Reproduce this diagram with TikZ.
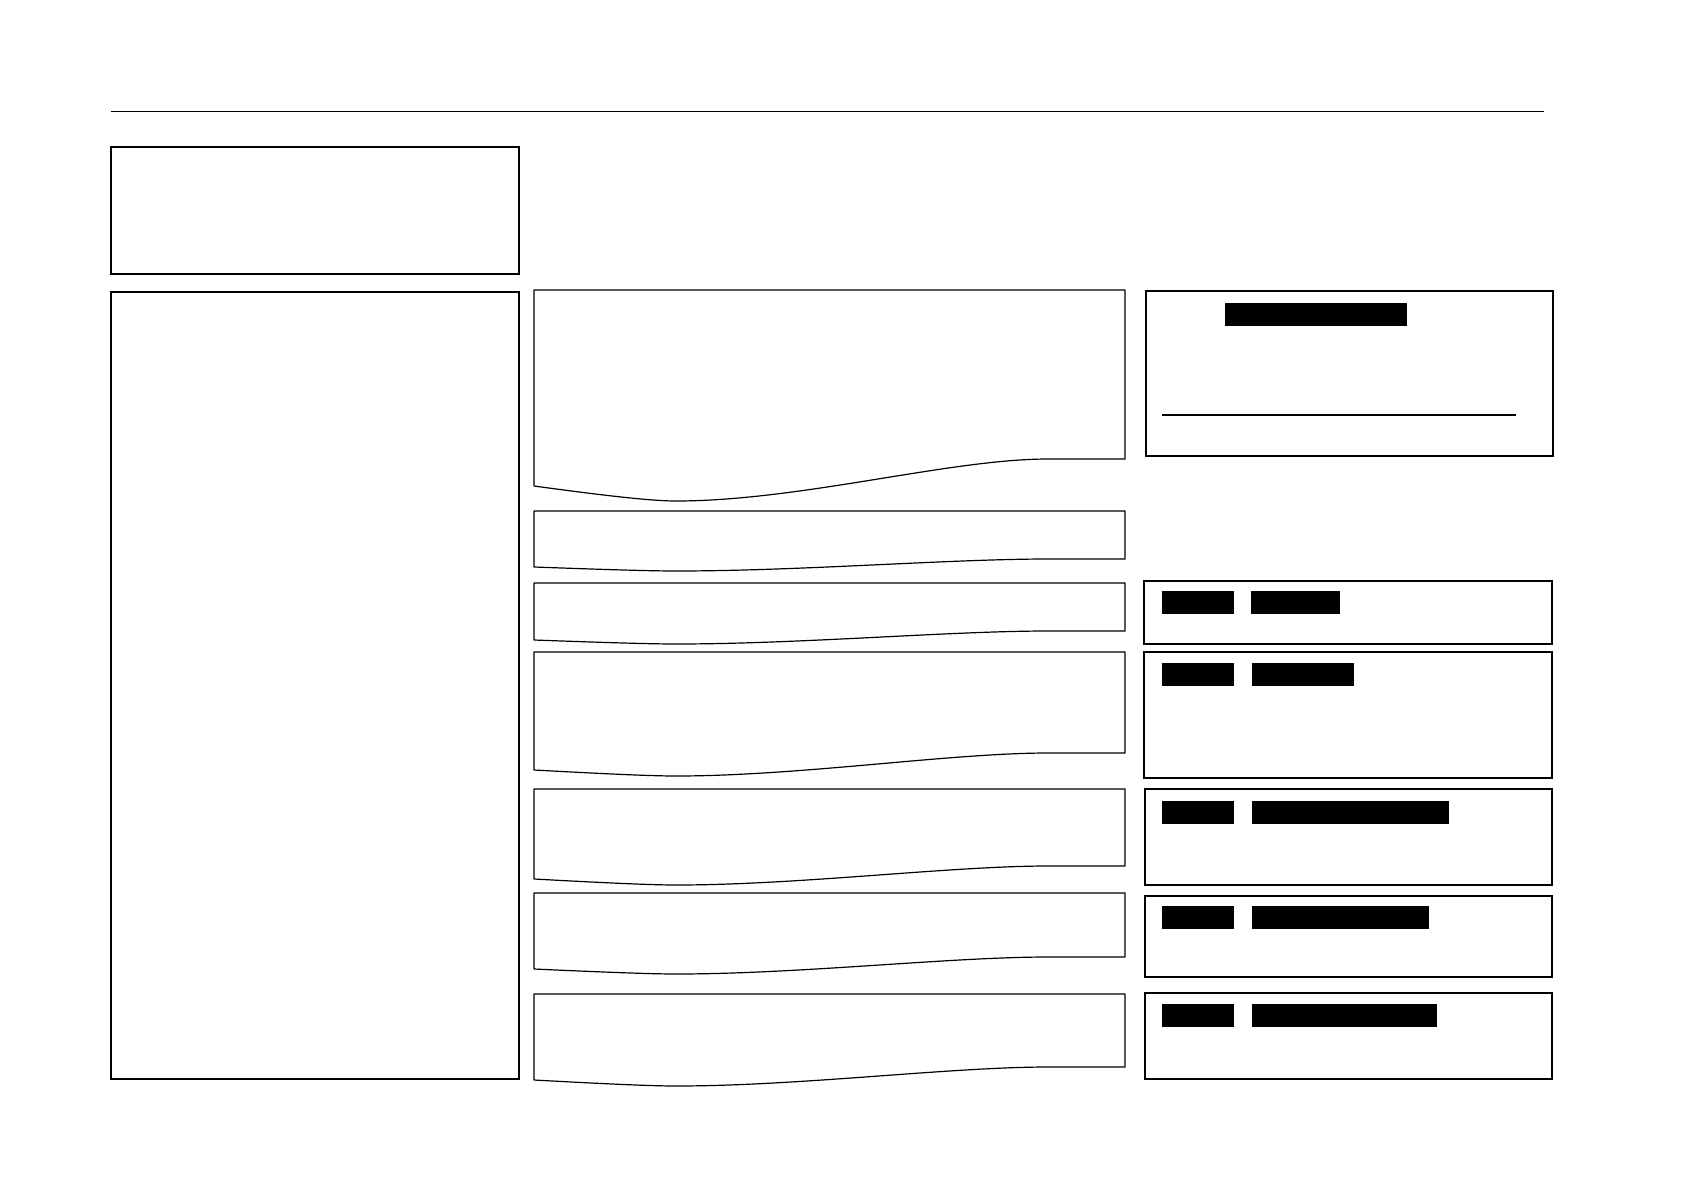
\documentclass[tikz,border=0pt]{standalone}
\begin{document}
\begin{tikzpicture}[x=1pt,y=-1pt,
  framebox/.style={draw=black,line width=1.5pt,inner sep=0pt,outer sep=0pt,anchor=north west},
  rbox/.style={draw=black,line width=1.4pt,inner sep=0pt,outer sep=0pt,anchor=north west},
  bar/.style={fill=black,draw=none,inner sep=0pt,outer sep=0pt,anchor=north west},
  docline/.style={draw=black,line width=1.2pt,line join=round},
  rule/.style={draw=black,line width=1pt}]
\useasboundingbox[fill=white] (0,0) rectangle (1684,1191);
% top rule
\coordinate (tl) at (111,111);
\coordinate (tr) at (1544,111);
\draw[rule] (tl) -- (tr);
% left boxes
\node[framebox,minimum width=408pt,minimum height=127pt] (boxA) at (111,147) {};
\node[framebox,minimum width=408pt,minimum height=787pt] (boxB) at (111,292) {};
% document shapes
\newcommand\mydoc[5]{% top, yL, ymin, yR, name
  \draw[docline] (534,#1) -- (1125,#1) -- (1125,#4) -- (1048,#4)
    .. controls (950,#4) and (800,#3) .. (676,#3)
    .. controls (650,#3) and (600,{#2+0.6*(#3-#2)}) .. (534,#2) -- cycle;
  \coordinate (#5) at (829,#1);}
\mydoc{290}{486}{501}{459}{doc1}
\mydoc{511}{567}{571}{559}{doc2}
\mydoc{583}{640}{644}{631}{doc3}
\mydoc{652}{770}{776}{753}{doc4}
\mydoc{789}{879}{885}{866}{doc5}
\mydoc{893}{969}{974}{957}{doc6}
\mydoc{994}{1080}{1086}{1067}{doc7}
% right boxes
\node[rbox,minimum width=407pt,minimum height=165pt] (r1) at (1146,291) {};
\node[bar,minimum width=182pt,minimum height=23pt] (r1bar) at (1225,303) {};
\coordinate (r1la) at (1162,415);
\coordinate (r1lb) at (1516,415);
\draw[line width=1.5pt] (r1la) -- (r1lb);
\node[rbox,minimum width=408pt,minimum height=63pt] (r2) at (1144,581) {};
\node[bar,minimum width=72pt,minimum height=23pt] (r2a) at (1162,591) {};
\node[bar,minimum width=89pt,minimum height=23pt] (r2b) at (1251,591) {};
\node[rbox,minimum width=408pt,minimum height=126pt] (r3) at (1144,652) {};
\node[bar,minimum width=72pt,minimum height=23pt] (r3a) at (1162,663) {};
\node[bar,minimum width=102pt,minimum height=23pt] (r3b) at (1252,663) {};
\node[rbox,minimum width=407pt,minimum height=96pt] (r4) at (1145,789) {};
\node[bar,minimum width=72pt,minimum height=23pt] (r4a) at (1162,801) {};
\node[bar,minimum width=197pt,minimum height=23pt] (r4b) at (1252,801) {};
\node[rbox,minimum width=407pt,minimum height=81pt] (r5) at (1145,896) {};
\node[bar,minimum width=72pt,minimum height=23pt] (r5a) at (1162,906) {};
\node[bar,minimum width=177pt,minimum height=23pt] (r5b) at (1252,906) {};
\node[rbox,minimum width=407pt,minimum height=86pt] (r6) at (1145,993) {};
\node[bar,minimum width=72pt,minimum height=23pt] (r6a) at (1162,1004) {};
\node[bar,minimum width=185pt,minimum height=23pt] (r6b) at (1252,1004) {};
\end{tikzpicture}
\end{document}
